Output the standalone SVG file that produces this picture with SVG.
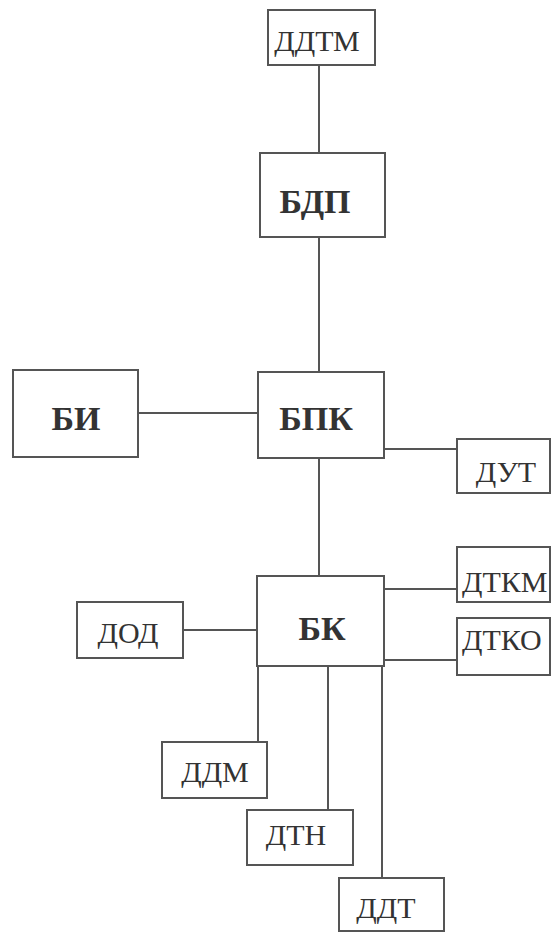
<svg xmlns="http://www.w3.org/2000/svg" width="552" height="933" viewBox="0 0 552 933">
<style>
.box{fill:#fff;stroke:#555;stroke-width:2}
.ln{stroke:#555;stroke-width:2;fill:none}
.b{font-family:"Liberation Serif",serif;font-weight:bold;font-size:34px;fill:#333;text-anchor:middle}
.r{font-family:"Liberation Serif",serif;font-size:30px;fill:#333;text-anchor:middle}
</style>
<rect width="552" height="933" fill="#fff"/>
<g id="connectors">
<line class="ln" x1="319" y1="65" x2="319" y2="153"/>
<line class="ln" x1="319" y1="237" x2="319" y2="372"/>
<line class="ln" x1="138" y1="413" x2="258" y2="413"/>
<line class="ln" x1="384" y1="449" x2="457" y2="449"/>
<line class="ln" x1="319" y1="458" x2="319" y2="576"/>
<line class="ln" x1="183" y1="630" x2="257" y2="630"/>
<line class="ln" x1="384" y1="589" x2="457" y2="589"/>
<line class="ln" x1="384" y1="660" x2="457" y2="660"/>
<line class="ln" x1="258" y1="666" x2="258" y2="742"/>
<line class="ln" x1="328" y1="666" x2="328" y2="810"/>
<line class="ln" x1="382" y1="666" x2="382" y2="878"/>
</g>
<g id="ddtm"><rect class="box" x="268" y="10" width="107" height="55"/><text class="r" x="317" y="51">ДДТМ</text></g>
<g id="bdp"><rect class="box" x="260" y="153" width="125" height="84"/><text class="b" x="315" y="213">БДП</text></g>
<g id="bi"><rect class="box" x="13" y="370" width="125" height="87"/><text class="b" x="76" y="430">БИ</text></g>
<g id="bpk"><rect class="box" x="258" y="372" width="126" height="86"/><text class="b" x="316" y="430">БПК</text></g>
<g id="dut"><rect class="box" x="457" y="439" width="93" height="54"/><text class="r" x="506" y="482">ДУТ</text></g>
<g id="bk"><rect class="box" x="257" y="576" width="127" height="90"/><text class="b" x="322" y="640">БК</text></g>
<g id="dod"><rect class="box" x="77" y="602" width="106" height="56"/><text class="r" x="128" y="643">ДОД</text></g>
<g id="dtkm"><rect class="box" x="457" y="547" width="93" height="55"/><text class="r" x="462" y="592" style="text-anchor:start">ДТКМ</text></g>
<g id="dtko"><rect class="box" x="457" y="618" width="93" height="57"/><text class="r" x="462" y="650" style="text-anchor:start">ДТКО</text></g>
<g id="ddm"><rect class="box" x="162" y="742" width="105" height="56"/><text class="r" x="215" y="782">ДДМ</text></g>
<g id="dtn"><rect class="box" x="247" y="810" width="106" height="55"/><text class="r" x="296" y="845">ДТН</text></g>
<g id="ddt"><rect class="box" x="339" y="878" width="105" height="53"/><text class="r" x="386" y="918">ДДТ</text></g>
</svg>
